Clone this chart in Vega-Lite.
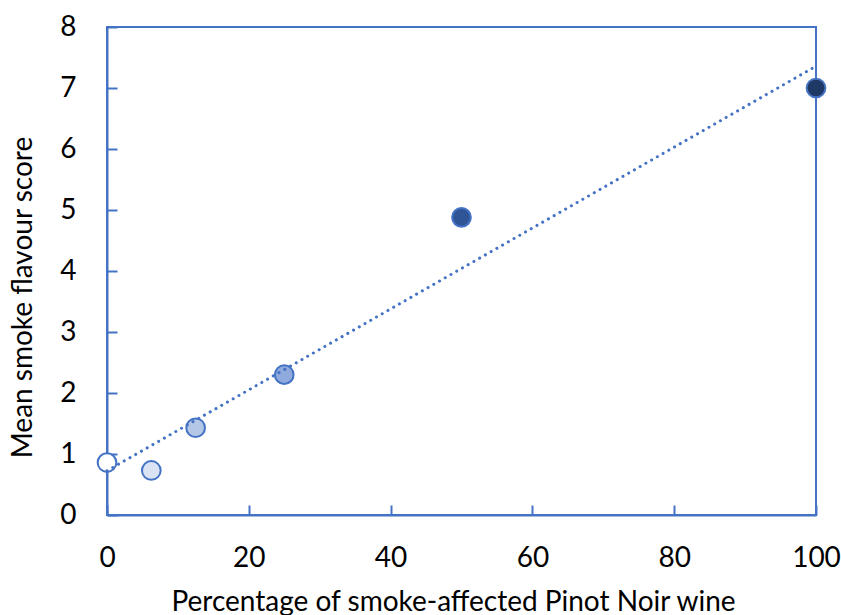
{
  "$schema": "https://vega.github.io/schema/vega-lite/v6.json",
  "autosize": "none",
  "width": 709,
  "height": 488,
  "padding": {"left": 107, "top": 27, "right": 25, "bottom": 100},
  "background": "white",
  "config": {
    "view": {"stroke": "#4472c4", "strokeWidth": 2},
    "font": "Lato",
    "axis": {
      "domainColor": "#4472c4",
      "domainWidth": 2,
      "tickColor": "#4472c4",
      "tickWidth": 2,
      "grid": false,
      "labelFont": "Lato",
      "labelFontSize": 28,
      "labelColor": "#000000",
      "labelFlush": false,
      "titleFont": "Lato",
      "titleFontSize": 28,
      "titleFontWeight": "normal",
      "titleColor": "#000000"
    }
  },
  "resolve": {"axis": {"x": "independent", "y": "independent"}},
  "data": {
    "values": [
      {"pct": 0, "score": 0.86, "fill": "#ffffff"},
      {"pct": 6.25, "score": 0.73, "fill": "#dae3f3"},
      {"pct": 12.5, "score": 1.43, "fill": "#b4c7e7"},
      {"pct": 25, "score": 2.3, "fill": "#8faadc"},
      {"pct": 50, "score": 4.88, "fill": "#2f5597"},
      {"pct": 100, "score": 7.0, "fill": "#203864"}
    ]
  },
  "layer": [
    {
      "mark": {"type": "point", "shape": "circle", "filled": true, "size": 350, "stroke": "#4472c4", "strokeWidth": 2, "opacity": 1},
      "encoding": {
        "x": {"field": "pct", "type": "quantitative", "scale": {"domain": [0, 100], "nice": false},
          "axis": {"orient": "bottom", "values": [0, 20, 40, 60, 80, 100], "format": "d", "ticks": false, "tickSize": 0, "labelPadding": 29, "title": "Percentage of smoke-affected Pinot Noir wine", "titlePadding": 16, "titleX": 346}},
        "y": {"field": "score", "type": "quantitative", "scale": {"domain": [0, 8], "nice": false},
          "axis": {"orient": "left", "values": [0, 1, 2, 3, 4, 5, 6, 7, 8], "format": "d", "ticks": false, "tickSize": 0, "labelPadding": 31, "title": "Mean smoke flavour score", "titlePadding": 22, "titleY": 270}},
        "fill": {"field": "fill", "type": "nominal", "scale": null}
      }
    },
    {
      "transform": [{"regression": "score", "on": "pct", "extent": [0, 100]}],
      "mark": {"type": "line", "color": "#4472c4", "strokeWidth": 3, "strokeDash": [0.1, 6.5], "strokeCap": "round"},
      "encoding": {
        "x": {"field": "pct", "type": "quantitative",
          "axis": {"orient": "bottom", "values": [0, 20, 40, 60, 80, 100], "offset": -10, "domain": false, "labels": false, "title": null, "ticks": true, "tickSize": 10}},
        "y": {"field": "score", "type": "quantitative",
          "axis": {"orient": "left", "values": [0, 1, 2, 3, 4, 5, 6, 7, 8], "offset": -10, "domain": false, "labels": false, "title": null, "ticks": true, "tickSize": 10}}
      }
    }
  ]
}
